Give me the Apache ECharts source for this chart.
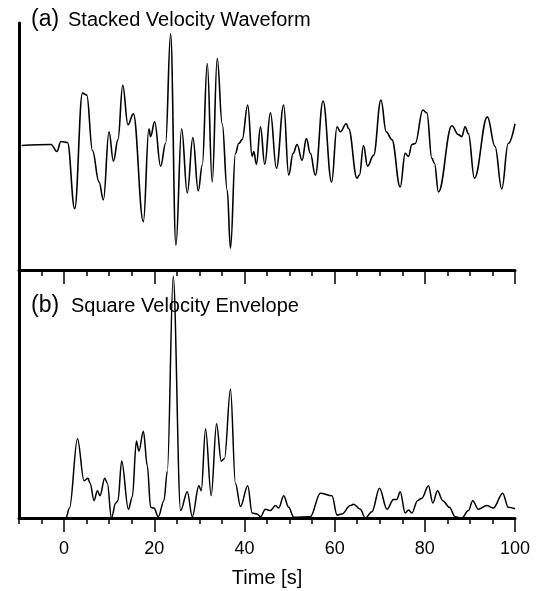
<!DOCTYPE html>
<html>
<head>
<meta charset="utf-8">
<script src="https://cdn.jsdelivr.net/npm/echarts@6/dist/echarts.min.js"></script>
<style>
html,body{margin:0;padding:0;background:#fff;}
#chart{width:538px;height:591px;}
</style>
</head>
<body>
<div id="chart"></div>
<script>
// (a) Stacked velocity waveform: time [s] and amplitude (arbitrary units)
var timeA = [-9.4,-2.9,-1.6,-0.7,0.75,2.35,4.07,5.03,6.29,7.75,8.72,9.96,10.94,11.95,13.0,14.17,15.36,17.58,18.82,19.19,20.08,21.41,22.51,23.62,24.8,26.06,27.32,28.56,29.75,30.64,31.75,32.85,33.96,35.07,36.17,36.9,38.0,38.74,39.49,40.73,41.7,42.06,42.66,43.55,44.5,45.76,47.09,48.7,49.81,50.79,51.67,52.78,53.73,54.62,55.72,57.43,59.33,60.53,61.26,62.59,63.1,64.96,65.5,66.4,67.3,68.63,70.27,71.44,72.7,74.54,75.65,76.38,77.13,77.86,79.57,80.45,81.56,82.14,83.02,86.0,87.45,88.2,88.93,89.66,91.0,93.87,95.57,97.06,98.5,100];
var ampA = [0.01,0.02,-0.05,0.05,0.04,-0.63,0.54,0.52,-0.04,-0.36,-0.54,0.15,-0.15,0.07,0.62,0.22,0.33,-0.76,0.18,0.10,0.25,-0.20,0.03,1.14,-1.0,0.18,-0.47,0.09,-0.45,-0.19,0.84,-0.36,0.89,0.23,-0.44,-1.03,-0.07,0.03,0.07,0.42,-0.10,-0.05,-0.18,0.20,-0.18,0.34,-0.22,0.42,-0.29,-0.07,0.02,-0.14,0.08,-0.07,-0.29,0.46,-0.36,0.20,0.15,0.23,0.18,-0.32,-0.29,0.01,-0.20,-0.09,0.47,0.15,0.07,-0.41,-0.07,-0.10,0.02,0.03,0.37,0.34,-0.12,-0.17,-0.46,0.21,0.12,0.10,0.20,0.13,-0.32,0.30,0.0,-0.43,0.03,0.23];

// (b) Square velocity envelope: time [s] and normalised envelope
var timeB = [-10,0.4,1.2,2.97,4.43,5.3,5.76,6.64,7.39,7.97,9.01,9.6,10.49,11.45,11.95,12.77,14.26,15.14,16.03,16.6,17.58,18.46,19.19,19.93,20.9,22.14,22.9,24.2,25.84,27.32,28.43,29.89,30.42,31.37,32.63,33.81,34.85,35.58,36.9,38.0,39.12,40.73,41.7,42.8,43.55,44.65,45.76,46.87,47.6,48.7,49.81,50.92,54.6,56.83,59.42,60.53,61.6,63.47,64.2,65.7,66.8,68.27,69.96,71.6,73.06,73.8,74.54,75.65,76.38,77.13,78.37,79.35,80.8,81.78,82.8,83.99,85.45,86.72,88.2,89.66,90.63,91.87,93.73,95.2,97.28,98.5,100];
var envB = [0,0,0.04,0.32,0.15,0.16,0.14,0.07,0.11,0.09,0.16,0.14,0.0,0.06,0.07,0.23,0.035,0.086,0.31,0.27,0.35,0.21,0.043,0.04,0.005,0.07,0.19,0.975,0.03,0.106,0.005,0.13,0.11,0.36,0.09,0.38,0.23,0.24,0.52,0.14,0.046,0.13,0.02,0.016,0.005,0.035,0.03,0.05,0.04,0.09,0.043,0.003,0.005,0.10,0.09,0.012,0.016,0.05,0.055,0.035,0,0.025,0.12,0.035,0.075,0.075,0.106,0.02,0.032,0.02,0.07,0.08,0.13,0.06,0.11,0.07,0.043,0.005,0,0.03,0.07,0.035,0.05,0.04,0.10,0.043,0.037];

var majorTicks = [0, 20, 40, 60, 80, 100];
var panelTitles = [['(a)', 'Stacked Velocity Waveform'], ['(b)', 'Square Velocity Envelope']];
var xName = 'Time [s]';

function pairs(xs, ys) { return xs.map(function (x, i) { return [x, ys[i]]; }); }

var FONT = '"Liberation Sans", Arial, Helvetica, sans-serif';
var lineStyleAxis = { color: '#000', width: 3 };

function minorAxis(gridIndex) {
  return {
    type: 'value', gridIndex: gridIndex, position: 'bottom',
    min: -10, max: 100, interval: 5,
    axisLine: { show: true, onZero: false, lineStyle: lineStyleAxis },
    axisTick: { show: true, length: 6, lineStyle: { color: '#000', width: 1.5 } },
    axisLabel: { show: false }, splitLine: { show: false }
  };
}
function majorAxis(gridIndex, withLabels) {
  return {
    type: 'value', gridIndex: gridIndex, position: 'bottom',
    min: -10, max: 100, interval: 5,
    name: withLabels ? xName : '', nameLocation: 'middle', nameGap: 50,
    nameTextStyle: { fontFamily: FONT, fontSize: 20, color: '#000' },
    axisLine: { show: false, onZero: false },
    axisTick: { show: true, length: 14, customValues: majorTicks, lineStyle: { color: '#000', width: 1.5 } },
    axisLabel: { show: withLabels, customValues: majorTicks, margin: 22, fontFamily: FONT, fontSize: 18, color: '#000' },
    splitLine: { show: false }
  };
}

var chart = echarts.init(document.getElementById('chart'), null, { renderer: 'canvas' });
chart.setOption({
  backgroundColor: '#fff',
  animation: false,
  grid: [
    { left: 19, right: 23, top: 23, height: 247 },
    { left: 19, right: 23, top: 270, height: 248 }
  ],
  xAxis: [minorAxis(0), majorAxis(0, false), minorAxis(1), majorAxis(1, true)],
  yAxis: [
    { type: 'value', gridIndex: 0, min: -1.25, max: 1.25,
      axisLine: { show: true, onZero: false, lineStyle: lineStyleAxis }, axisTick: { show: false },
      axisLabel: { show: false }, splitLine: { show: false } },
    { type: 'value', gridIndex: 1, min: 0, max: 1,
      axisLine: { show: true, onZero: false, lineStyle: lineStyleAxis }, axisTick: { show: false },
      axisLabel: { show: false }, splitLine: { show: false } }
  ],
  graphic: [
    { type: 'text', left: 31, top: 8, style: { text: panelTitles[0][0], font: '23px ' + FONT, fill: '#000' } },
    { type: 'text', left: 68, top: 10, style: { text: panelTitles[0][1], font: '20px ' + FONT, fill: '#000' } },
    { type: 'text', left: 31, top: 294, style: { text: panelTitles[1][0], font: '23px ' + FONT, fill: '#000' } },
    { type: 'text', left: 71, top: 296, style: { text: panelTitles[1][1], font: '20px ' + FONT, fill: '#000' } }
  ],
  series: [
    { type: 'line', xAxisIndex: 0, yAxisIndex: 0, data: pairs(timeA, ampA),
      smooth: 0.4, smoothMonotone: 'x', symbol: 'none',
      lineStyle: { color: '#000', width: 1.6 } },
    { type: 'line', xAxisIndex: 2, yAxisIndex: 1, data: pairs(timeB, envB),
      smooth: 0.35, smoothMonotone: 'x', symbol: 'none',
      lineStyle: { color: '#000', width: 1.5 } }
  ]
});
</script>
</body>
</html>
